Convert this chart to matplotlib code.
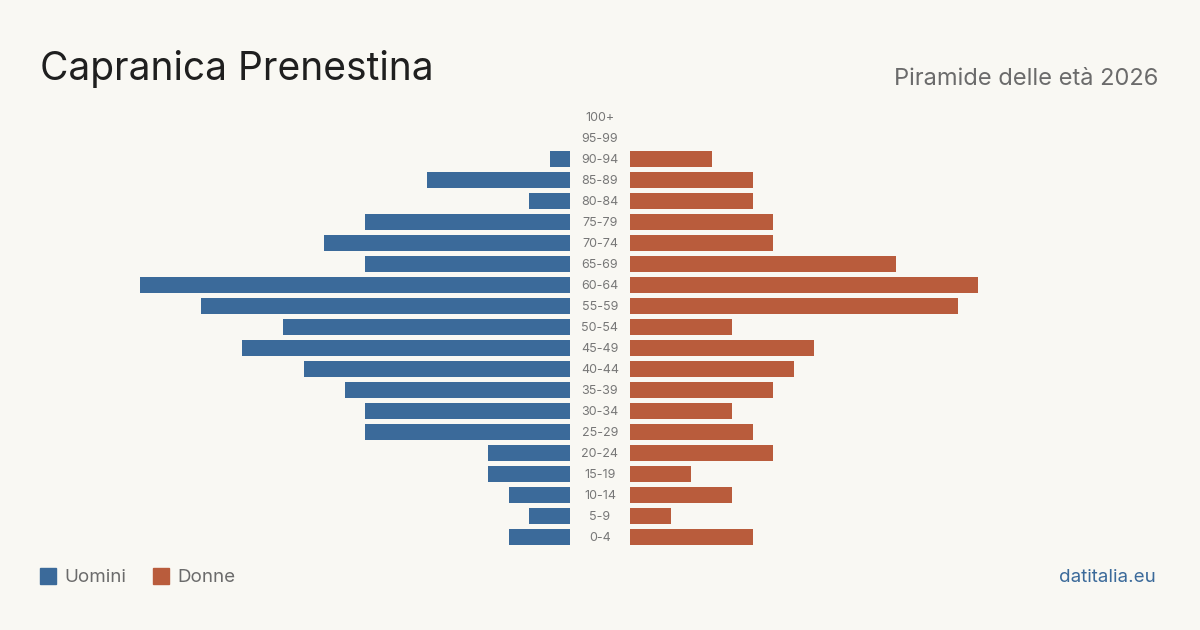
import matplotlib
matplotlib.use("Agg")
import matplotlib.pyplot as plt
from matplotlib.patches import Rectangle

plt.rcParams['font.family'] = ['Inter', 'DejaVu Sans']

age_groups = ["0-4", "5-9", "10-14", "15-19", "20-24", "25-29", "30-34", "35-39",
              "40-44", "45-49", "50-54", "55-59", "60-64", "65-69", "70-74", "75-79",
              "80-84", "85-89", "90-94", "95-99", "100+"]
men = [3, 2, 3, 4, 4, 10, 10, 11, 13, 16, 14, 18, 21, 10, 12, 10, 2, 7, 1, 0, 0]
women = [6, 2, 5, 3, 7, 6, 5, 7, 8, 9, 5, 16, 17, 13, 7, 7, 6, 6, 4, 0, 0]

BG = "#f9f8f3"
BLUE = "#3b6a9a"
ORANGE = "#b95c3c"

W, H = 1200, 630
fig = plt.figure(figsize=(12, 6.3), dpi=100, facecolor=BG)

xmax = 21
y0 = (H - 547.5) / H
hh = 441 / H
axL = fig.add_axes([140 / W, y0, 430 / W, hh])
axR = fig.add_axes([630 / W, y0, 430 / W, hh])
ypos = list(range(len(age_groups)))
axL.barh(ypos, men, height=0.8, color=BLUE)
axR.barh(ypos, women, height=0.8, color=ORANGE)
axL.set_xlim(xmax, 0)
axR.set_xlim(0, xmax)
for ax in (axL, axR):
    ax.set_ylim(-0.5, len(age_groups) - 0.5)
    ax.axis("off")
    ax.set_facecolor("none")

# center labels
for i, lab in enumerate(age_groups):
    yc = 538 - i * 21
    fig.text(600 / W, 1 - yc / H, lab, ha="center", va="center",
             fontsize=9, color="#777777")

fig.text(40 / W, 1 - 80 / H, "Capranica Prenestina", fontsize=28,
         color="#1f1f1f", ha="left", va="baseline")
fig.text(1158 / W, 1 - 85 / H, "Piramide delle età 2026", fontsize=17,
         color="#6b6b6b", ha="right", va="baseline")

# legend
fig.patches.append(Rectangle((40 / W, 1 - 584 / H), 16 / W, 16 / H,
                             transform=fig.transFigure, color=BLUE))
fig.text(64 / W, 1 - 577 / H, "Uomini", fontsize=13.5, color="#6b6b6b",
         ha="left", va="center")
fig.patches.append(Rectangle((153 / W, 1 - 584 / H), 16 / W, 16 / H,
                             transform=fig.transFigure, color=ORANGE))
fig.text(177 / W, 1 - 577 / H, "Donne", fontsize=13.5, color="#6b6b6b",
         ha="left", va="center")

fig.text(1156 / W, 1 - 577 / H, "datitalia.eu", fontsize=13.5, color=BLUE,
         ha="right", va="center")

fig.savefig("out.png", dpi=100, facecolor=BG)
